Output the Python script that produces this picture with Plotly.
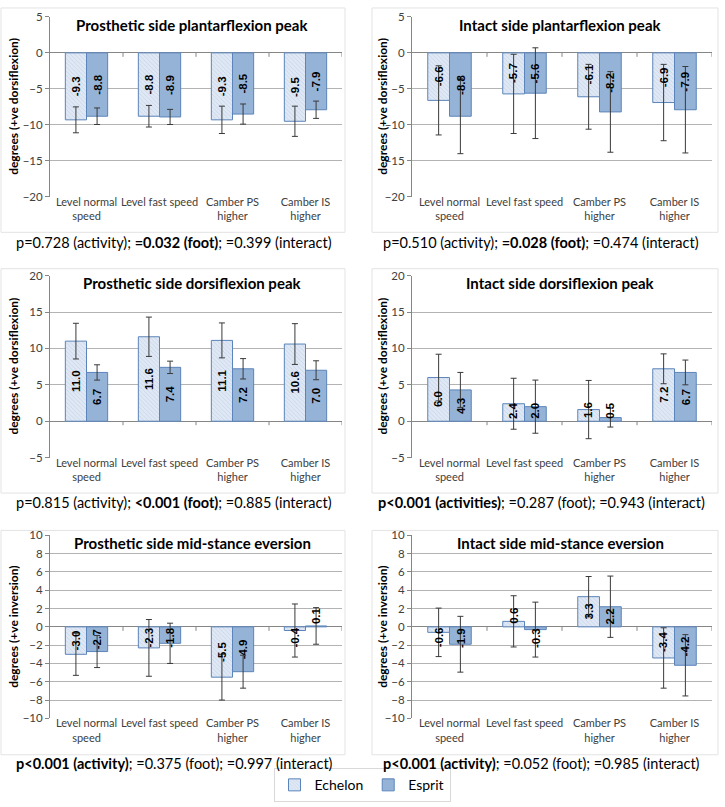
import plotly.graph_objects as go

# ---------------- data ----------------
categories = ["Level normal<br>speed", "Level fast speed", "Camber PS<br>higher", "Camber IS<br>higher"]
series_names = ["Echelon", "Esprit"]

titles = [
    "Prosthetic side plantarflexion peak",
    "Intact side plantarflexion peak",
    "Prosthetic side dorsiflexion peak",
    "Intact side dorsiflexion peak",
    "Prosthetic side mid-stance eversion",
    "Intact side mid-stance eversion",
]
y_titles = [
    "degrees (+ve dorsiflexion)", "degrees (+ve dorsiflexion)",
    "degrees (+ve dorsiflexion)", "degrees (+ve dorsiflexion)",
    "degrees (+ve inversion)", "degrees (+ve inversion)",
]
p_texts = [
    "p=0.728 (activity); <b>=0.032 (foot)</b>; =0.399 (interact)",
    "p=0.510 (activity); <b>=0.028 (foot)</b>; =0.474 (interact)",
    "p=0.815 (activity); <b>&lt;0.001 (foot)</b>; =0.885 (interact)",
    "<b>p&lt;0.001 (activities)</b>; =0.287 (foot); =0.943 (interact)",
    "<b>p&lt;0.001 (activity)</b>; =0.375 (foot); =0.997 (interact)",
    "<b>p&lt;0.001 (activity)</b>; =0.052 (foot); =0.985 (interact)",
]
y_ranges = [(-20, 5), (-20, 5), (-5, 20), (-5, 20), (-10, 10), (-10, 10)]
y_dticks = [5, 5, 5, 5, 2, 2]

pf_pros_echelon = [-9.3, -8.8, -9.3, -9.5]
pf_pros_esprit = [-8.8, -8.9, -8.5, -7.9]
pf_pros_echelon_sd = [1.8, 1.5, 1.9, 2.1]
pf_pros_esprit_sd = [1.15, 1.05, 1.4, 1.2]

pf_int_echelon = [-6.6, -5.7, -6.1, -6.9]
pf_int_esprit = [-8.8, -5.6, -8.2, -7.9]
pf_int_echelon_sd = [4.8, 5.5, 4.5, 5.3]
pf_int_esprit_sd = [5.2, 6.3, 5.6, 6.0]

df_pros_echelon = [11.0, 11.6, 11.1, 10.6]
df_pros_esprit = [6.7, 7.4, 7.2, 7.0]
df_pros_echelon_sd = [2.45, 2.7, 2.4, 2.8]
df_pros_esprit_sd = [1.05, 0.85, 1.4, 1.3]

df_int_echelon = [6.0, 2.4, 1.6, 7.2]
df_int_esprit = [4.3, 2.0, 0.5, 6.7]
df_int_echelon_sd = [3.2, 3.5, 4.0, 2.05]
df_int_esprit_sd = [2.4, 3.65, 1.3, 1.7]

ev_pros_echelon = [-3.0, -2.3, -5.5, -0.4]
ev_pros_esprit = [-2.7, -1.8, -4.9, 0.1]
ev_pros_echelon_sd = [2.3, 3.1, 2.5, 2.9]
ev_pros_esprit_sd = [1.75, 2.2, 1.8, 2.0]

ev_int_echelon = [-0.6, 0.6, 3.3, -3.4]
ev_int_esprit = [-1.9, -0.3, 2.2, -4.2]
ev_int_echelon_sd = [2.65, 2.8, 2.2, 3.3]
ev_int_esprit_sd = [3.05, 3.0, 3.35, 3.35]

panels = [
    (pf_pros_echelon, pf_pros_echelon_sd, pf_pros_esprit, pf_pros_esprit_sd),
    (pf_int_echelon, pf_int_echelon_sd, pf_int_esprit, pf_int_esprit_sd),
    (df_pros_echelon, df_pros_echelon_sd, df_pros_esprit, df_pros_esprit_sd),
    (df_int_echelon, df_int_echelon_sd, df_int_esprit, df_int_esprit_sd),
    (ev_pros_echelon, ev_pros_echelon_sd, ev_pros_esprit, ev_pros_esprit_sd),
    (ev_int_echelon, ev_int_echelon_sd, ev_int_esprit, ev_int_esprit_sd),
]

# ---------------- layout geometry (pixels) ----------------
W, H = 725, 807
cols = [(50, 342), (412, 712)]
rows = [(10, 193), (273, 458), (537, 723)]
title_cx = [192, 560]
ytitle_x = [14, 383]
ptext_cx = [174, 541]
BARGAP = 0.42

FONT = "Lato"
TXT = "#404040"
GRID = "#b3b3b3"
AXIS = "#868686"
ECH_BG = "#dfe8f4"
ECH_FG = "#a9bfdb"
ESP = "#95b3d7"
OUTLINE = "#5b84ba"
ERR = "#3a3a3a"

fig = go.Figure()
annotations = []
shapes = []

def px_x(v):
    return v / W

def px_y(v):
    return 1 - v / H

for k, (ech, ech_sd, esp, esp_sd) in enumerate(panels):
    idx = k + 1
    suffix = "" if idx == 1 else str(idx)
    xa, ya = "x" + suffix, "y" + suffix
    c, r = k % 2, k // 2
    x0, x1 = cols[c]
    y0, y1 = rows[r]

    fig.add_trace(go.Bar(
        x=list(range(4)), y=ech, name=series_names[0], xaxis=xa, yaxis=ya,
        showlegend=(k == 0), legendgroup="ech",
        marker=dict(color=ECH_BG, line=dict(color=OUTLINE, width=1),
                    pattern=dict(shape="\\", fgcolor=ECH_FG, bgcolor=ECH_BG, size=3, solidity=0.25)),
        error_y=dict(type="data", array=ech_sd, color=ERR, thickness=1, width=3),
        hoverinfo="skip",
    ))
    fig.add_trace(go.Bar(
        x=list(range(4)), y=esp, name=series_names[1], xaxis=xa, yaxis=ya,
        showlegend=(k == 0), legendgroup="esp",
        marker=dict(color=ESP, line=dict(color=OUTLINE, width=1)),
        error_y=dict(type="data", array=esp_sd, color=ERR, thickness=1, width=3),
        hoverinfo="skip",
    ))

    lo, hi = y_ranges[k]
    fig.update_layout(**{
        "xaxis" + suffix: dict(
            domain=[px_x(x0), px_x(x1)], anchor=ya, range=[-0.5, 3.5],
            tickmode="array", tickvals=list(range(4)), ticktext=categories,
            showgrid=False, zeroline=False, showline=False,
            ticks="", ticklabelstandoff=-3,
            tickfont=dict(family=FONT, size=11, color=TXT), fixedrange=True,
        ),
        "yaxis" + suffix: dict(
            domain=[px_y(y1), px_y(y0)], anchor=xa, range=[lo, hi], dtick=y_dticks[k],
            showgrid=True, gridcolor=GRID, gridwidth=1,
            zeroline=True, zerolinecolor=AXIS, zerolinewidth=1,
            showline=True, linecolor=AXIS, linewidth=1,
            ticks="outside", ticklen=4, tickcolor=AXIS,
            tickfont=dict(family=FONT, size=11.5, color=TXT), fixedrange=True,
        ),
    })

    # category boundary ticks on the zero axis
    for b in [0.5, 1.5, 2.5, 3.5]:
        shapes.append(dict(type="line", xref=xa, yref=ya, x0=b, x1=b,
                           ysizemode="pixel", yanchor=0, y0=0, y1=-4,
                           line=dict(color=AXIS, width=1)))

    # value labels in bars (rotated)
    px_per_unit = (y1 - y0) / (hi - lo)
    half_len = 11.0 / px_per_unit
    off = (1 - BARGAP) / 4
    for series, dx in ((ech, -off), (esp, off)):
        for i, v in enumerate(series):
            sign = 1 if v >= 0 else -1
            yc = sign * max(abs(v) / 2, half_len)
            annotations.append(dict(
                x=i + dx, y=yc, xref=xa, yref=ya, text="<b>%.1f</b>" % v,
                textangle=-90, showarrow=False,
                font=dict(family="Liberation Sans", size=11.5, color="#000000"),
            ))

    # chart title
    annotations.append(dict(
        x=px_x(title_cx[c]), y=px_y(y0 + 8), xref="paper", yref="paper",
        text="<b>%s</b>" % titles[k], showarrow=False, xanchor="center", yanchor="middle",
        font=dict(family=FONT, size=15, color="#000000"),
    ))
    # y axis title
    annotations.append(dict(
        x=px_x(ytitle_x[c]), y=px_y((y0 + y1) / 2), xref="paper", yref="paper",
        text="<b>%s</b>" % y_titles[k], showarrow=False, textangle=-90,
        xanchor="center", yanchor="middle",
        font=dict(family=FONT, size=12, color="#000000"),
    ))
    # p-values text below chart
    annotations.append(dict(
        x=px_x(ptext_cx[c]), y=px_y(y1 + 46), xref="paper", yref="paper",
        text=p_texts[k], showarrow=False, xanchor="center", yanchor="middle",
        font=dict(family=FONT, size=14.5, color="#000000"),
    ))

# faint chart-area borders
area_cols = [(1, 345), (372, 718)]
area_rows = [(1, 229), (266, 494), (532, 760)]
for (ax0, ax1) in area_cols:
    for (ay0, ay1) in area_rows:
        shapes.append(dict(type="rect", xref="paper", yref="paper",
                           x0=px_x(ax0), x1=px_x(ax1), y0=px_y(ay1), y1=px_y(ay0),
                           line=dict(color="#e3e3e3", width=1), layer="below"))

fig.update_layout(
    width=W, height=H, margin=dict(l=0, r=0, t=0, b=0),
    paper_bgcolor="white", plot_bgcolor="white",
    barmode="group", bargap=BARGAP, bargroupgap=0,
    annotations=annotations, shapes=shapes,
    showlegend=True,
    legend=dict(orientation="h", x=px_x(362), xanchor="center", y=px_y(791), yanchor="middle",
                bordercolor="#d9d9d9", borderwidth=1, bgcolor="white",
                font=dict(family=FONT, size=14, color="#000000"),
                itemwidth=30, tracegroupgap=0, traceorder="normal"),
)

fig.write_html("out.html", config={"displayModeBar": False},
               post_script="document.body.style.margin='0';")
